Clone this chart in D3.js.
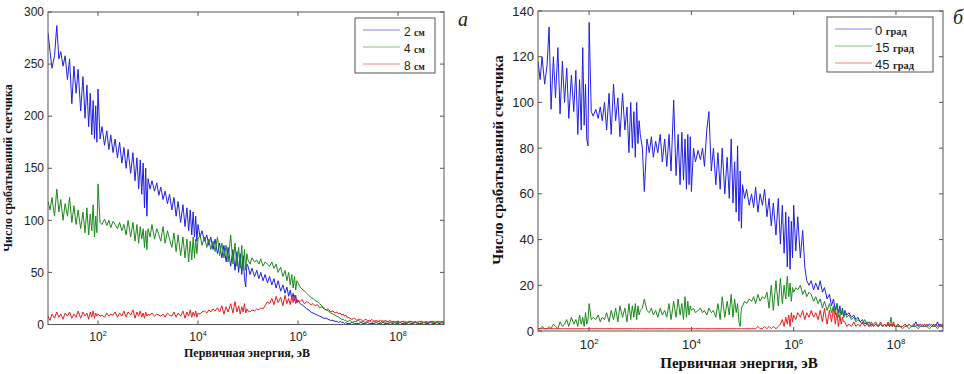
<!DOCTYPE html>
<html><head><meta charset="utf-8">
<script src="https://cdn.jsdelivr.net/npm/d3@7"></script>
<style>body{margin:0;background:#fff}svg{display:block}</style>
</head><body>
<svg id="c" width="964" height="374"></svg>
<script>
// Energy sampling: steps inside each decade (mantissa x 10^decade), eV
const mantissa = [1,1.1,1.2,1.35,1.5,1.65,1.8,2,2.2,2.45,2.7,3,3.3,3.65,4,4.5,5,5.5,6,6.5,7,7.5,8,8.5,9,9.5];
const decades = [1,2,3,4,5,6,7,8];
const energy = decades.flatMap(d => mantissa.map(m => m * Math.pow(10, d)));

// Panel a: thickness 2, 4, 8 cm (one row per decade)
const a2cm = [
280,262,246,258,287,255,262,248,258,235,255,212,248,222,245,205,238,198,230,190,222,182,215,178,210,175,
226,178,190,172,186,168,182,165,178,160,175,155,170,150,168,145,165,138,160,130,158,125,155,112,150,104,
140,130,138,128,136,124,132,120,128,116,125,110,122,104,118,98,115,94,112,90,110,86,108,84,104,80,
96,84,90,80,86,76,84,72,82,68,78,64,76,60,74,56,72,52,70,50,68,48,66,45,36,58,
56,48,54,46,52,44,50,42,48,40,46,38,44,35,42,32,38,30,36,27,33,25,30,23,28,21,
23,20,19,17,15,14,12,11,10,9,8,7,6,6,5,4,4,3,3,2,3,2,2,1,2,1,
1,1,2,1,1,1,2,1,1,2,1,1,1,2,1,1,2,1,1,1,2,1,1,2,1,1,
1,2,1,1,1,2,1,1,2,1,1,1,2,1,1,2,1,1,2,1,1,2,1,1,2,1];
const a4cm = [
118,110,122,104,130,108,120,100,116,104,122,98,114,96,110,92,108,88,112,86,106,90,115,84,104,88,
135,98,96,101,95,100,93,99,96,92,98,90,96,86,100,84,98,80,96,78,94,82,92,74,90,72,
92,84,96,82,92,86,80,94,78,90,82,74,88,70,86,66,84,64,82,60,80,62,84,64,82,68,
82,86,76,84,74,82,72,80,70,84,66,78,64,76,60,86,58,78,56,74,54,76,52,72,52,68,
62,58,64,60,62,58,63,56,60,58,56,60,54,58,50,55,46,52,42,50,38,48,35,46,33,42,
40,36,34,32,30,28,26,25,23,22,20,18,16,14,13,11,10,9,8,7,6,5,5,4,4,3,
3,4,2,3,3,4,2,3,2,3,4,2,3,2,3,2,4,2,3,2,2,3,2,2,3,2,
2,2,3,2,2,2,3,2,2,2,3,2,2,2,2,3,2,2,2,2,3,2,2,2,2,2];
const a8cm = [
8,4,10,6,12,7,10,5,11,8,12,6,10,7,13,6,12,8,11,5,12,7,13,6,11,8,
10,8,9,7,11,8,10,9,12,7,11,8,13,7,12,9,14,6,12,8,13,7,11,6,12,8,
10,9,11,8,10,9,8,10,7,11,9,8,12,7,11,8,13,6,12,8,14,7,12,8,13,7,
11,10,12,13,11,14,12,15,13,16,12,18,10,17,12,20,11,22,12,18,10,17,12,20,11,15,
13,12,14,13,15,14,16,15,18,22,20,25,19,27,21,26,18,28,20,25,19,27,21,28,20,24,
23,22,24,20,22,21,19,20,18,19,16,17,15,14,15,12,13,11,12,10,11,9,10,8,9,7,
7,6,5,6,4,5,5,3,5,4,3,5,3,4,3,4,2,4,3,3,4,2,3,3,2,3,
3,2,3,3,2,3,3,2,3,2,3,3,2,3,2,3,3,2,3,3,2,3,3,2,3,3];

// Panel b: angle 0, 15, 45 deg
const b0 = [
118,110,120,108,116,133,97,120,102,124,95,118,100,115,93,112,96,114,86,110,88,124,90,108,84,81,
135,96,94,97,93,98,92,100,88,104,86,108,92,102,85,104,88,98,78,100,80,96,76,100,82,92,
86,80,61,84,78,85,76,83,78,86,74,84,72,86,70,101,68,86,64,87,66,84,62,86,64,85,
61,80,74,79,75,80,72,88,96,70,80,64,78,62,80,60,76,58,84,56,74,52,81,48,70,45,
64,58,62,55,60,54,63,52,60,55,62,50,58,46,56,42,58,38,55,34,52,28,50,27,48,32,
55,35,50,32,44,28,22,20,22,18,21,18,22,17,19,14,16,11,14,9,12,8,11,7,10,6,
9,7,8,6,7,5,6,4,5,3,4,2,3,2,3,2,3,2,3,2,3,2,3,2,3,2,
2,3,2,2,3,2,3,2,2,4,2,3,2,3,2,3,2,3,2,4,2,3,2,3,2,3];
const b15 = [
1,1,2,1,1,2,1,3,2,1,4,2,3,5,2,6,3,5,2,7,3,6,2,8,3,5,
12,5,6,5,7,4,6,5,8,4,9,5,10,4,11,6,10,4,12,5,11,6,12,5,11,7,
9,10,14,9,8,10,7,9,6,10,7,9,6,12,5,13,6,14,7,12,5,15,6,13,7,11,
9,10,8,9,10,8,9,7,10,8,9,6,12,5,15,6,13,7,16,6,14,8,12,4,2,10,
11,13,12,14,13,15,12,16,13,15,14,17,10,20,9,22,11,23,12,20,14,24,15,21,13,19,
17,19,18,20,16,18,15,17,16,13,15,12,14,10,13,9,12,8,11,7,12,6,10,7,9,6,
8,6,7,5,6,4,5,4,3,5,3,4,2,3,4,2,3,2,3,2,3,2,6,2,3,2,
2,2,2,1,2,2,1,2,2,2,1,2,2,2,2,1,2,2,2,1,2,2,2,1,2,2];
const b45 = [
1,1,1,1,1,1,1,1,1,1,1,1,1,1,1,1,1,1,1,1,1,1,1,1,1,1,
1,1,1,1,1,1,1,1,1,1,1,1,1,1,1,1,1,1,1,1,1,1,1,1,1,1,
1,1,1,1,1,1,1,1,1,1,1,1,1,1,1,1,1,1,1,1,1,1,1,1,1,1,
1,1,1,1,1,1,1,1,1,1,1,1,1,1,1,1,1,1,1,1,1,1,1,1,1,1,
1,1,1,1,1,1,1,2,1,1,2,1,2,1,2,1,2,3,5,2,6,3,7,2,8,4,
7,5,8,6,9,5,8,6,9,6,8,5,9,4,10,3,9,4,10,3,8,2,7,3,6,4,
4,2,3,2,4,2,3,2,4,2,3,2,4,2,3,2,4,2,3,2,4,2,3,2,4,2,
2,3,2,2,3,2,3,2,3,2,3,2,3,2,3,2,3,2,3,2,3,2,3,3,2,3];

const yTicksA = [0,50,100,150,200,250,300];
const yTicksB = [0,20,40,60,80,100,120,140];
const xTickExp = [2,4,6,8];
const legendA = ["2","4","8"], unitA = "см";
const legendB = ["0","15","45"], unitB = "град";
const colors = ["#1f1fe6","#1a8a1a","#ec1c1c"];
const yTitle = "Число срабатываний счетчика";
const xTitle = "Первичная энергия, эВ";

[a2cm,a4cm,a8cm,b0,b15,b45].forEach((s,i)=>{ if(s.length!==energy.length) throw new Error("series "+i+" length "+s.length+" vs "+energy.length); });

const svg = d3.select("#c");
const xDomain = [Math.pow(10,1.0), Math.pow(10,8.92)];

function panel(cfg, id){
  const g = svg.append("g");
  const x = d3.scaleLog().domain(xDomain).range([cfg.l, cfg.r]);
  const y = d3.scaleLinear().domain([0, cfg.ymax]).range([cfg.b, cfg.t]);
  svg.append("clipPath").attr("id","clip"+id).append("rect")
    .attr("x",cfg.l).attr("y",cfg.t).attr("width",cfg.r-cfg.l).attr("height",cfg.b-cfg.t);
  const plot = g.append("g").attr("clip-path",`url(#clip${id})`);
  cfg.series.forEach((s,i)=>{
    const line = d3.line().x((d,j)=>x(energy[j])).y(d=>y(d));
    plot.append("path").attr("d", line(s)).attr("fill","none")
      .attr("stroke", colors[i]).attr("stroke-width",1).attr("stroke-linejoin","round");
  });
  g.append("rect").attr("x",cfg.l).attr("y",cfg.t).attr("width",cfg.r-cfg.l).attr("height",cfg.b-cfg.t)
    .attr("fill","none").attr("stroke","#555").attr("stroke-width",1);
  cfg.yTicks.forEach(v=>{
    const yy = y(v);
    g.append("line").attr("x1",cfg.l).attr("x2",cfg.l+4).attr("y1",yy).attr("y2",yy).attr("stroke","#555");
    g.append("line").attr("x1",cfg.r).attr("x2",cfg.r-4).attr("y1",yy).attr("y2",yy).attr("stroke","#555");
    g.append("text").attr("x",cfg.l-4).attr("y",yy).attr("dy","0.35em").attr("text-anchor","end")
      .attr("font-family","Liberation Sans, Arial, sans-serif").attr("font-size",cfg.tfs).attr("fill","#222").text(v);
  });
  xTickExp.forEach(e=>{
    const xx = x(Math.pow(10,e));
    g.append("line").attr("x1",xx).attr("x2",xx).attr("y1",cfg.b).attr("y2",cfg.b-4).attr("stroke","#555");
    g.append("line").attr("x1",xx).attr("x2",xx).attr("y1",cfg.t).attr("y2",cfg.t+4).attr("stroke","#555");
    const t = g.append("text").attr("x",xx).attr("y",cfg.b+cfg.xly).attr("text-anchor","middle")
      .attr("font-family","Liberation Sans, Arial, sans-serif").attr("font-size",cfg.tfs).attr("fill","#222");
    t.append("tspan").text("10");
    t.append("tspan").attr("dy",-5).attr("font-size",cfg.tfs*0.6).text(e);
  });
  g.append("text").attr("transform",`translate(${cfg.ytx},${cfg.yty}) rotate(-90)`).attr("text-anchor","middle")
    .attr("font-family","Liberation Serif, Times New Roman, serif").attr("font-weight","bold")
    .attr("font-size",cfg.yfs).attr("fill","#111").text(yTitle);
  g.append("text").attr("x",cfg.xtx).attr("y",cfg.xty).attr("text-anchor","middle")
    .attr("font-family","Liberation Serif, Times New Roman, serif").attr("font-weight","bold")
    .attr("font-size",cfg.xfs).attr("fill","#111").text(xTitle);
  const L = cfg.leg;
  g.append("rect").attr("x",L.x).attr("y",L.y).attr("width",L.w).attr("height",L.h)
    .attr("fill","#fff").attr("stroke","#555");
  cfg.labels.forEach((lab,i)=>{
    const yy = L.y + L.y0 + i*L.dy;
    g.append("line").attr("x1",L.x+L.lx1).attr("x2",L.x+L.lx2).attr("y1",yy).attr("y2",yy)
      .attr("stroke",colors[i]).attr("stroke-opacity",0.55).attr("stroke-width",1.2);
    const t = g.append("text").attr("x",L.x+L.tx).attr("y",yy).attr("dy","0.35em").attr("fill","#222");
    t.append("tspan").attr("font-family","Liberation Sans, Arial, sans-serif").attr("font-size",L.fs).text(lab+" ");
    t.append("tspan").attr("font-family","Liberation Serif, Times New Roman, serif").attr("font-weight","bold")
      .attr("font-size",L.fs*0.8).text(cfg.unit);
  });
  g.append("text").attr("x",cfg.lx).attr("y",cfg.ly).attr("font-family","Liberation Serif, Times New Roman, serif")
    .attr("font-style","italic").attr("font-size",20).attr("fill","#222").text(cfg.letter);
}

panel({l:48,r:444,t:12,b:324.5,ymax:300,yTicks:yTicksA,series:[a2cm,a4cm,a8cm],tfs:12,xly:16,
  ytx:12,yty:168,yfs:12,xtx:247,xty:357,xfs:12,labels:legendA,unit:unitA,
  leg:{x:355,y:18,w:80,h:55,y0:12,dy:17,lx1:8,lx2:45,tx:49,fs:12},letter:"а",lx:458,ly:26}, "A");
panel({l:538,r:943,t:11,b:331,ymax:140,yTicks:yTicksB,series:[b0,b15,b45],tfs:13,xly:18,
  ytx:503,yty:160,yfs:15,xtx:739,xty:368,xfs:15,labels:legendB,unit:unitB,
  leg:{x:827,y:17,w:106,h:55,y0:12,dy:17,lx1:8,lx2:45,tx:48,fs:13},letter:"б",lx:953,ly:24}, "B");
</script>
</body></html>
